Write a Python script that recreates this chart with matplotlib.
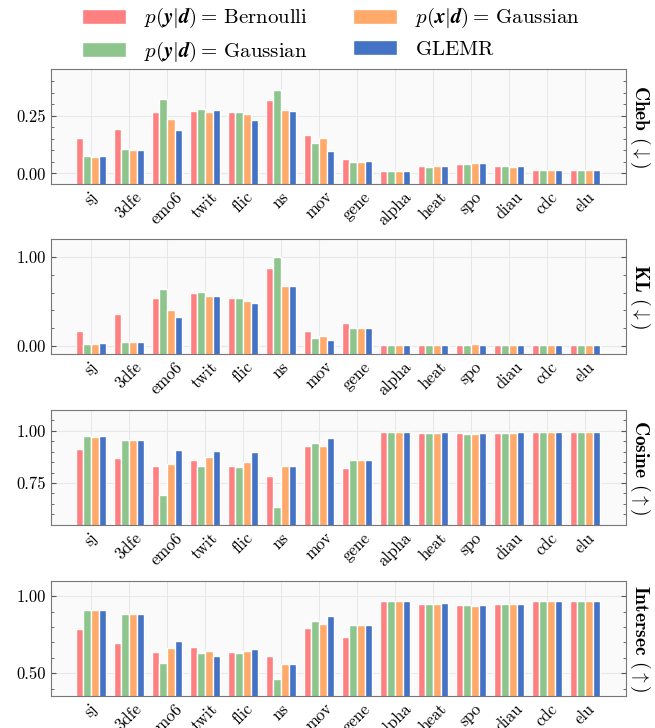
import matplotlib
matplotlib.use("Agg")
import matplotlib.pyplot as plt
import numpy as np
from matplotlib.ticker import MultipleLocator, FormatStrFormatter

plt.rcParams["font.family"] = "serif"
plt.rcParams["font.serif"] = ["cmr10"]
plt.rcParams["mathtext.fontset"] = "cm"
plt.rcParams["axes.formatter.use_mathtext"] = True

datasets = ["sj", "3dfe", "emo6", "twit", "flic", "ns", "mov", "gene",
            "alpha", "heat", "spo", "diau", "cdc", "elu"]
methods = [r"$p(\boldsymbol{y}|\boldsymbol{d}) = \,\mathrm{Bernoulli}$",
           r"$p(\boldsymbol{y}|\boldsymbol{d}) = \,\mathrm{Gaussian}$",
           r"$p(\boldsymbol{x}|\boldsymbol{d}) = \,\mathrm{Gaussian}$",
           r"$\mathrm{GLEMR}$"]
colors = ["#ff8080", "#8dc58d", "#ffa96b", "#4472c4"]

# rows: Bernoulli, y-Gaussian, x-Gaussian, GLEMR
cheb = [
    [0.152, 0.191, 0.267, 0.270, 0.266, 0.316, 0.165, 0.062, 0.010, 0.032, 0.040, 0.030, 0.013, 0.013],
    [0.075, 0.105, 0.321, 0.279, 0.266, 0.361, 0.133, 0.051, 0.010, 0.029, 0.040, 0.030, 0.013, 0.013],
    [0.072, 0.103, 0.234, 0.264, 0.257, 0.275, 0.155, 0.051, 0.010, 0.032, 0.043, 0.027, 0.013, 0.013],
    [0.075, 0.103, 0.189, 0.273, 0.233, 0.269, 0.097, 0.052, 0.010, 0.032, 0.043, 0.030, 0.013, 0.013],
]
kl = [
    [0.165, 0.356, 0.536, 0.592, 0.536, 0.873, 0.172, 0.255, 0.011, 0.012, 0.012, 0.012, 0.011, 0.011],
    [0.030, 0.049, 0.644, 0.610, 0.543, 1.000, 0.094, 0.202, 0.011, 0.012, 0.012, 0.012, 0.011, 0.011],
    [0.030, 0.049, 0.404, 0.558, 0.509, 0.670, 0.109, 0.202, 0.011, 0.012, 0.022, 0.012, 0.011, 0.011],
    [0.034, 0.049, 0.330, 0.566, 0.479, 0.670, 0.071, 0.202, 0.011, 0.012, 0.012, 0.012, 0.011, 0.011],
]
cosine = [
    [0.915, 0.872, 0.829, 0.861, 0.829, 0.784, 0.926, 0.824, 0.995, 0.992, 0.989, 0.992, 0.995, 0.995],
    [0.974, 0.954, 0.691, 0.833, 0.827, 0.636, 0.942, 0.862, 0.995, 0.992, 0.987, 0.992, 0.995, 0.995],
    [0.971, 0.955, 0.843, 0.875, 0.851, 0.832, 0.929, 0.861, 0.995, 0.992, 0.987, 0.992, 0.995, 0.995],
    [0.974, 0.955, 0.910, 0.902, 0.899, 0.829, 0.965, 0.861, 0.995, 0.994, 0.989, 0.994, 0.995, 0.995],
]
intersec = [
    [0.787, 0.696, 0.637, 0.672, 0.637, 0.611, 0.796, 0.737, 0.967, 0.952, 0.941, 0.952, 0.967, 0.970],
    [0.909, 0.887, 0.565, 0.630, 0.633, 0.465, 0.837, 0.815, 0.967, 0.952, 0.941, 0.952, 0.967, 0.970],
    [0.909, 0.887, 0.663, 0.641, 0.646, 0.557, 0.820, 0.815, 0.967, 0.952, 0.939, 0.952, 0.967, 0.970],
    [0.909, 0.887, 0.711, 0.611, 0.654, 0.559, 0.870, 0.815, 0.967, 0.957, 0.943, 0.952, 0.967, 0.970],
]

panels = [
    (cheb, r"$\mathbf{Cheb}$ $(\downarrow)$", (-0.046, 0.452), 0.25, 0.05),
    (kl, r"$\mathbf{KL}$ $(\downarrow)$", (-0.087, 1.20), 1.0, 0.2),
    (cosine, r"$\mathbf{Cosine}$ $(\uparrow)$", (0.548, 1.10), 0.25, 0.05),
    (intersec, r"$\mathbf{Intersec}$ $(\uparrow)$", (0.352, 1.098), 0.5, 0.1),
]

W, H = 655, 728
fig = plt.figure(figsize=(W / 100, H / 100), dpi=100)
x = np.arange(len(datasets))
w = 0.2
tops = [69, 239, 410, 581]
ax_h = 115

for (vals, label, ylim, major, minor), top in zip(panels, tops):
    ax = fig.add_axes([51 / W, 1 - (top + ax_h) / H, 575 / W, ax_h / H])
    ax.set_facecolor("#fafafa")
    ax.set_axisbelow(True)
    ax.grid(True, color="#e8e8e8", lw=0.8)
    # bars run down past the lower axis edge
    base = ylim[0] - 0.5
    for k in range(4):
        ax.bar(x + (k - 1.5) * w, np.array(vals[k]) - base, w, bottom=base,
               color=colors[k], edgecolor="white", lw=1.0, label=methods[k])
    ax.set_xlim(-1.05, 14.08)
    ax.set_ylim(*ylim)
    ax.yaxis.set_major_locator(MultipleLocator(major))
    ax.yaxis.set_minor_locator(MultipleLocator(minor))
    ax.yaxis.set_major_formatter(FormatStrFormatter("%.2f"))
    ax.set_xticks(x)
    ax.set_xticklabels(datasets, rotation=45, fontsize=12)
    ax.tick_params(axis="x", length=0)
    ax.tick_params(axis="y", which="both", direction="in", left=True,
                   right=True, color="#555555", labelsize=12)
    ax.tick_params(axis="y", which="major", length=3.5)
    ax.tick_params(axis="y", which="minor", length=2)
    for s in ax.spines.values():
        s.set_color("#777777")
    ax.text(1.004, 0.5, label, transform=ax.transAxes, rotation=270,
            ha="left", va="center", fontsize=14)
    if top == tops[0]:
        handles, labels = ax.get_legend_handles_labels()

fig.legend(handles, labels, loc="upper center", bbox_to_anchor=(0.505, 1.017),
           ncol=2, frameon=False, fontsize=15, handlelength=2.1,
           handleheight=0.75, handletextpad=0.85, columnspacing=2.2,
           labelspacing=0.45)

fig.savefig("out.png", dpi=100)
